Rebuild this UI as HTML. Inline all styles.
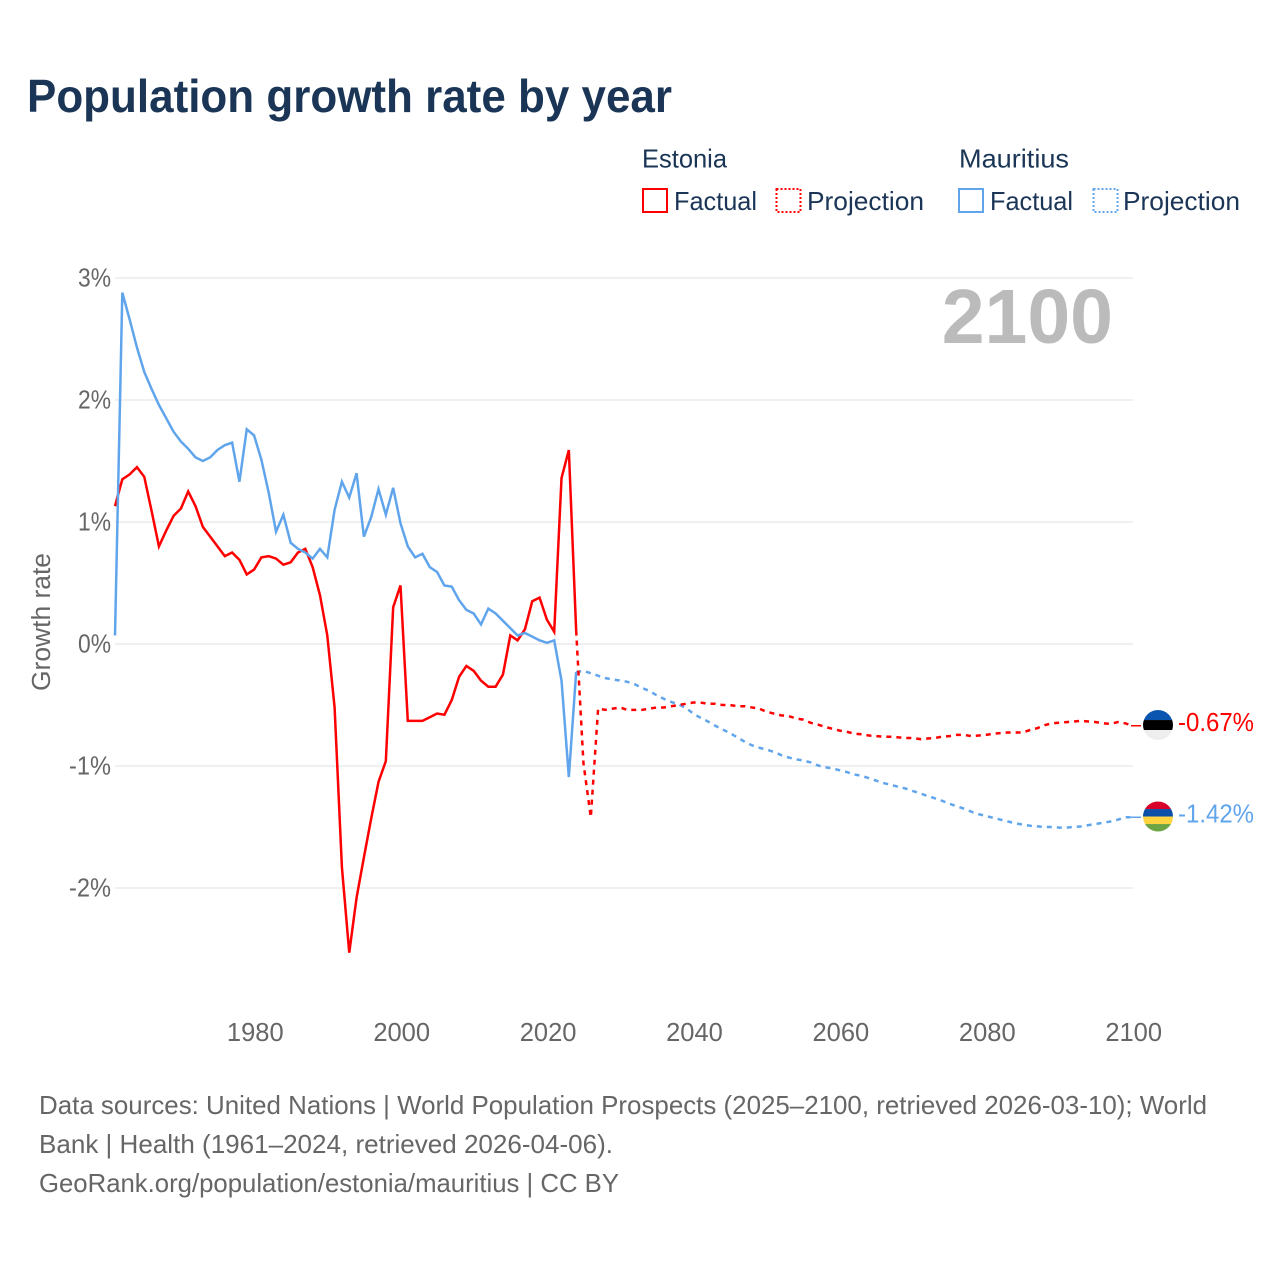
<!DOCTYPE html>
<html lang="en">
<head>
<meta charset="utf-8">
<title>Population growth rate by year</title>
<style>
html,body{margin:0;padding:0;background:#fff;}
svg{display:block;font-family:"Liberation Sans",sans-serif;}
</style>
</head>
<body>
<svg id="chart" xmlns="http://www.w3.org/2000/svg" width="1280" height="1280" viewBox="0 0 1280 1280">
  <rect x="0" y="0" width="1280" height="1280" fill="#ffffff"/>
  <text x="27" y="112" font-size="46" font-weight="bold" fill="#1a3556" textLength="645" lengthAdjust="spacingAndGlyphs">Population growth rate by year</text>

  <g font-size="26" fill="#1a3556">
    <text x="642" y="167.500" textLength="85" lengthAdjust="spacingAndGlyphs">Estonia</text>
    <text x="959" y="167.500" textLength="110" lengthAdjust="spacingAndGlyphs">Mauritius</text>
    <rect x="643" y="189" width="24" height="23" fill="none" stroke="#ff0000" stroke-width="2"/>
    <text x="674" y="210" textLength="83" lengthAdjust="spacingAndGlyphs">Factual</text>
    <rect x="776.500" y="189" width="24" height="23" fill="none" stroke="#ff0000" stroke-width="2" stroke-dasharray="2 2"/>
    <text x="807" y="210" textLength="117" lengthAdjust="spacingAndGlyphs">Projection</text>
    <rect x="959" y="189" width="24" height="23" fill="none" stroke="#60a5ec" stroke-width="2"/>
    <text x="990" y="210" textLength="83" lengthAdjust="spacingAndGlyphs">Factual</text>
    <rect x="1093.500" y="189" width="24" height="23" fill="none" stroke="#60a5ec" stroke-width="2" stroke-dasharray="2 2"/>
    <text x="1123" y="210" textLength="117" lengthAdjust="spacingAndGlyphs">Projection</text>
  </g>

  <g id="grid"></g>
  <g id="yticks"></g>
  <g id="xticks"></g>
  <text transform="translate(50,622) rotate(-90)" text-anchor="middle" font-size="25.500" fill="#666666" textLength="138" lengthAdjust="spacingAndGlyphs">Growth rate</text>
  <text x="1113" y="343" text-anchor="end" font-size="77" font-weight="bold" fill="#bbbbbb">2100</text>
  <g id="series"></g>
  <g id="endmarks"></g>

  <g font-size="26" fill="#666666">
    <text x="39" y="1114" textLength="1168" lengthAdjust="spacingAndGlyphs">Data sources: United Nations | World Population Prospects (2025–2100, retrieved 2026-03-10); World</text>
    <text x="39" y="1153" textLength="574" lengthAdjust="spacingAndGlyphs">Bank | Health (1961–2024, retrieved 2026-04-06).</text>
    <text x="39" y="1192" textLength="580" lengthAdjust="spacingAndGlyphs">GeoRank.org/population/estonia/mauritius | CC BY</text>
  </g>
</svg>
<script>
const firstFactualYear = 1961;
const firstProjectionYear = 2024;
const yTickValues = [3, 2, 1, 0, -1, -2];
const yTickLabels = ["3%", "2%", "1%", "0%", "-1%", "-2%"];
const xTickValues = [1980, 2000, 2020, 2040, 2060, 2080, 2100];
const xTickLabels = ["1980", "2000", "2020", "2040", "2060", "2080", "2100"];

const estoniaFactual = [
1.13,1.35,1.39,1.45,1.37,1.09,0.80,0.93,1.05,1.11,
1.25,1.13,0.96,0.88,0.80,0.72,0.75,0.69,0.57,0.61,
0.71,0.72,0.70,0.65,0.67,0.75,0.78,0.63,0.40,0.07,
-0.52,-1.83,-2.53,-2.08,-1.75,-1.43,-1.13,-0.96,0.30,0.48,
-0.63,-0.63,-0.63,-0.60,-0.57,-0.58,-0.46,-0.27,-0.18,-0.22,
-0.30,-0.35,-0.35,-0.25,0.07,0.03,0.12,0.35,0.38,0.20,
0.10,1.36,1.59,0.11];

const estoniaProjection = [
0.11,-0.98,-1.42,-0.53,-0.54,-0.53,-0.52,-0.54,-0.54,-0.54,
-0.53,-0.52,-0.52,-0.51,-0.50,-0.49,-0.48,-0.48,-0.49,-0.49,
-0.50,-0.50,-0.51,-0.51,-0.52,-0.53,-0.555,-0.57,-0.585,-0.59,
-0.61,-0.62,-0.645,-0.66,-0.68,-0.695,-0.71,-0.72,-0.735,-0.74,
-0.75,-0.755,-0.76,-0.76,-0.765,-0.77,-0.77,-0.78,-0.775,-0.77,
-0.76,-0.755,-0.745,-0.745,-0.755,-0.75,-0.745,-0.735,-0.73,-0.725,
-0.725,-0.725,-0.705,-0.69,-0.665,-0.65,-0.645,-0.64,-0.635,-0.63,
-0.635,-0.64,-0.65,-0.655,-0.64,-0.65,-0.67];

const mauritiusFactual = [
0.07,2.88,2.66,2.43,2.23,2.09,1.96,1.85,1.74,1.66,
1.60,1.53,1.50,1.53,1.59,1.63,1.65,1.33,1.76,1.71,
1.51,1.24,0.92,1.06,0.83,0.78,0.75,0.70,0.78,0.71,
1.10,1.33,1.20,1.40,0.88,1.04,1.27,1.06,1.28,0.99,
0.80,0.71,0.74,0.63,0.59,0.48,0.47,0.36,0.28,0.25,
0.16,0.29,0.25,0.19,0.13,0.07,0.09,0.06,0.03,0.01,
0.03,-0.30,-1.09,-0.23];

const mauritiusProjection = [
-0.23,-0.22,-0.24,-0.26,-0.28,-0.29,-0.30,-0.31,-0.33,-0.36,
-0.385,-0.42,-0.45,-0.475,-0.495,-0.525,-0.57,-0.605,-0.635,-0.67,
-0.70,-0.73,-0.765,-0.80,-0.83,-0.85,-0.865,-0.885,-0.91,-0.93,
-0.945,-0.955,-0.97,-0.995,-1.01,-1.02,-1.035,-1.05,-1.07,-1.08,
-1.10,-1.12,-1.14,-1.155,-1.17,-1.185,-1.205,-1.225,-1.245,-1.265,
-1.285,-1.31,-1.33,-1.35,-1.375,-1.395,-1.41,-1.425,-1.44,-1.455,
-1.47,-1.48,-1.49,-1.495,-1.50,-1.50,-1.505,-1.505,-1.50,-1.495,
-1.485,-1.475,-1.465,-1.455,-1.44,-1.42,-1.42];

const estoniaEndLabel = "-0.67%";
const mauritiusEndLabel = "-1.42%";

const SVGNS = "http://www.w3.org/2000/svg";
const RED = "#ff0000";
const BLUE = "#60a5ec";
const X0 = 115, PXPERYEAR = 7.32, Y0 = 644, PXPERPCT = 122, PLOT_RIGHT = 1133;
const LINE_WIDTH = 2.5;

function xScale(year) { return X0 + (year - firstFactualYear) * PXPERYEAR; }
function yScale(v) { return Y0 - v * PXPERPCT; }
function make(tag, attrs, parent) {
  const el = document.createElementNS(SVGNS, tag);
  for (const k in attrs) el.setAttribute(k, attrs[k]);
  parent.appendChild(el);
  return el;
}
function linePath(values, startYear) {
  return values.map((v, i) => (i ? "L" : "M") + xScale(startYear + i).toFixed(2) + " " + yScale(v).toFixed(2)).join(" ");
}

const grid = document.getElementById("grid");
const yticks = document.getElementById("yticks");
const xticks = document.getElementById("xticks");
const series = document.getElementById("series");
const endmarks = document.getElementById("endmarks");

yTickValues.forEach((v, i) => {
  const line = make("line", {x1: X0, x2: PLOT_RIGHT, y1: yScale(v), y2: yScale(v), stroke: "#ebebeb", "stroke-width": 1.5}, grid);
  
  
  const label = yTickLabels[i];
  const t = make("text", {x: 111, y: yScale(v) + 8.5, "text-anchor": "end", "font-size": 25.5, fill: "#666666", textLength: label.length > 2 ? 42 : 33, lengthAdjust: "spacingAndGlyphs"}, yticks);
  
  
  t.textContent = label;
});

xTickValues.forEach((year, i) => {
  const t = make("text", {x: xScale(year) + 1.2, y: 1041, "text-anchor": "middle", "font-size": 25.5, fill: "#666666"}, xticks);
  
  
  t.textContent = xTickLabels[i];
});

const redFactualLine = make("path", {d: linePath(estoniaFactual, firstFactualYear), fill: "none", stroke: RED, "stroke-width": LINE_WIDTH}, series);



const blueFactualLine = make("path", {d: linePath(mauritiusFactual, firstFactualYear), fill: "none", stroke: BLUE, "stroke-width": LINE_WIDTH}, series);



const blueProjectionLine = make("path", {d: linePath(mauritiusProjection, firstProjectionYear), fill: "none", stroke: BLUE, "stroke-width": LINE_WIDTH, "stroke-dasharray": "5 5"}, series);



const redProjectionLine = make("path", {d: linePath(estoniaProjection, firstProjectionYear), fill: "none", stroke: RED, "stroke-width": LINE_WIDTH, "stroke-dasharray": "5 5"}, series);



const clip = make("clipPath", {id: "flag-clip"}, endmarks);
make("circle", {cx: 0, cy: 0, r: 15}, clip);

const FLAG_X = 1158;
const estY = yScale(estoniaProjection[estoniaProjection.length - 1]);
const mauY = yScale(mauritiusProjection[mauritiusProjection.length - 1]);

const estLeader = make("line", {x1: PLOT_RIGHT - 2, x2: FLAG_X - 17, y1: estY, y2: estY, stroke: RED, "stroke-width": 1.5}, endmarks);


const mauLeader = make("line", {x1: PLOT_RIGHT - 2, x2: FLAG_X - 17, y1: mauY, y2: mauY, stroke: BLUE, "stroke-width": 1.5}, endmarks);



const estFlag = make("g", {transform: "translate(" + FLAG_X + "," + (estY - 0.7) + ")", "clip-path": "url(#flag-clip)"}, endmarks);


make("rect", {x: -15, y: -15, width: 30, height: 10, fill: "#0a55b0"}, estFlag);
make("rect", {x: -15, y: -5, width: 30, height: 10, fill: "#000000"}, estFlag);
make("rect", {x: -15, y: 5, width: 30, height: 10, fill: "#eeeeee"}, estFlag);

const mauFlag = make("g", {transform: "translate(" + FLAG_X + "," + (mauY - 0.7) + ")", "clip-path": "url(#flag-clip)"}, endmarks);


make("rect", {x: -15, y: -15, width: 30, height: 7.5, fill: "#d8002a"}, mauFlag);
make("rect", {x: -15, y: -7.5, width: 30, height: 7.5, fill: "#0a4fa8"}, mauFlag);
make("rect", {x: -15, y: 0, width: 30, height: 7.5, fill: "#ffd441"}, mauFlag);
make("rect", {x: -15, y: 7.5, width: 30, height: 7.5, fill: "#6da544"}, mauFlag);

const estValue = make("text", {x: 1178, y: estY + 5.5, "font-size": 25.5, fill: RED, textLength: 76, lengthAdjust: "spacingAndGlyphs"}, endmarks);


estValue.textContent = estoniaEndLabel;

const mauValue = make("text", {x: 1178, y: mauY + 5.5, "font-size": 25.5, fill: BLUE, textLength: 76, lengthAdjust: "spacingAndGlyphs"}, endmarks);


mauValue.textContent = mauritiusEndLabel;
</script>
</body>
</html>
